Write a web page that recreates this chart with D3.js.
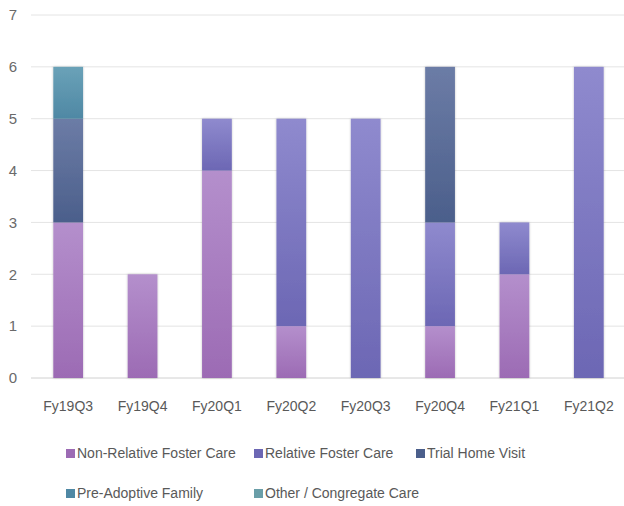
<!DOCTYPE html>
<html>
<head>
<meta charset="utf-8">
<script src="https://cdn.jsdelivr.net/npm/d3@7"></script>
<style>
  body { margin: 0; background: #fff; }
  text { font-family: "Liberation Sans", sans-serif; fill: #595959; }
</style>
</head>
<body>
<div id="chart"></div>
<script>
// quarters on the x axis
const quarters = ["Fy19Q3", "Fy19Q4", "Fy20Q1", "Fy20Q2", "Fy20Q3", "Fy20Q4", "Fy21Q1", "Fy21Q2"];

// placement counts per series
const nonRelative = [3, 2, 4, 1, 0, 1, 2, 0];
const relative    = [0, 0, 1, 4, 5, 2, 1, 6];
const trialHome   = [2, 0, 0, 0, 0, 3, 0, 0];
const preAdoptive = [1, 0, 0, 0, 0, 0, 0, 0];
const congregate  = [0, 0, 0, 0, 0, 0, 0, 0];

const seriesNames = ["Non-Relative Foster Care", "Relative Foster Care", "Trial Home Visit", "Pre-Adoptive Family", "Other / Congregate Care"];
const yTicks = [0, 1, 2, 3, 4, 5, 6, 7];

// top / bottom colours for the excel style gradient
const colors = [
    ["#b48fcc", "#9c6bb4"],
    ["#8f8ace", "#6c67b4"],
    ["#6c7ca6", "#4b5f8b"],
    ["#6aa2b8", "#4f88a4"],
    ["#86b4bc", "#6a9ea8"]
];

const width = 624, height = 506;
const margin = {top: 15, right: 0, bottom: 128, left: 31};

const svg = d3.select("#chart").append("svg")
    .attr("width", width)
    .attr("height", height);

const defs = svg.append("defs");
colors.forEach((c, i) => {
    let g = defs.append("linearGradient")
        .attr("id", "grad" + i)
        .attr("x1", 0).attr("y1", 0).attr("x2", 0).attr("y2", 1);
    g.append("stop").attr("offset", "0%").attr("stop-color", c[0]);
    g.append("stop").attr("offset", "100%").attr("stop-color", c[1]);
});

// soft shadow like the original
const shadow = defs.append("filter").attr("id", "shadow")
    .attr("x", "-20%").attr("y", "-5%").attr("width", "140%").attr("height", "110%");
shadow.append("feDropShadow")
    .attr("dx", 0).attr("dy", 0).attr("stdDeviation", 1.2)
    .attr("flood-color", "#000").attr("flood-opacity", 0.25);

const x = d3.scaleBand()
    .domain(quarters)
    .range([margin.left, width + 2])
    .paddingInner(0.6)
    .paddingOuter(0.3);

const y = d3.scaleLinear()
    .domain([0, 7])
    .range([height - margin.bottom, margin.top]);

// gridlines
svg.append("g")
    .selectAll("line")
    .data(yTicks)
    .enter()
    .append("line")
    .attr("x1", margin.left)
    .attr("x2", width)
    .attr("y1", d => y(d))
    .attr("y2", d => y(d))
    .attr("stroke", d => d === 0 ? "#d0d0d0" : "#e4e4e4")
    .attr("stroke-width", 1);

// y axis labels
svg.append("g")
    .selectAll("text")
    .data(yTicks)
    .enter()
    .append("text")
    .attr("x", 13)
    .attr("y", d => y(d))
    .attr("dy", "0.35em")
    .attr("text-anchor", "middle")
    .style("font-size", "15px")
    .style("fill", "#6a6a6a")
    .text(d => d);

// stack the data
const table = quarters.map((q, i) => ({
    quarter: q,
    s0: nonRelative[i], s1: relative[i], s2: trialHome[i], s3: preAdoptive[i], s4: congregate[i]
}));
const stacked = d3.stack().keys(["s0", "s1", "s2", "s3", "s4"])(table);

const bars = svg.append("g").attr("filter", "url(#shadow)");
stacked.forEach((layer, i) => {
    bars.append("g")
        .selectAll("rect")
        .data(layer.filter(d => d[1] > d[0]))
        .enter()
        .append("rect")
        .attr("x", d => x(d.data.quarter))
        .attr("width", x.bandwidth())
        .attr("y", d => y(d[1]))
        .attr("height", d => y(d[0]) - y(d[1]))
        .attr("fill", "url(#grad" + i + ")");
});

// x labels
svg.append("g")
    .selectAll("text")
    .data(quarters)
    .enter()
    .append("text")
    .attr("x", d => x(d) + x.bandwidth() / 2)
    .attr("y", 406)
    .attr("dy", "0.35em")
    .attr("text-anchor", "middle")
    .style("font-size", "14px")
    .text(d => d);

// legend
const legendPos = [[66, 453], [254, 453], [416, 453], [66, 493], [254, 493]];
const legend = svg.append("g")
    .selectAll("g")
    .data(seriesNames)
    .enter()
    .append("g")
    .attr("transform", (d, i) => `translate(${legendPos[i][0]}, ${legendPos[i][1]})`);

legend.append("rect")
    .attr("x", 0)
    .attr("y", -4)
    .attr("width", 9)
    .attr("height", 9)
    .attr("fill", (d, i) => colors[i][1]);

legend.append("text")
    .attr("x", 11)
    .attr("y", 0)
    .attr("dy", "0.35em")
    .style("font-size", "14px")
    .text(d => d);
</script>
</body>
</html>
